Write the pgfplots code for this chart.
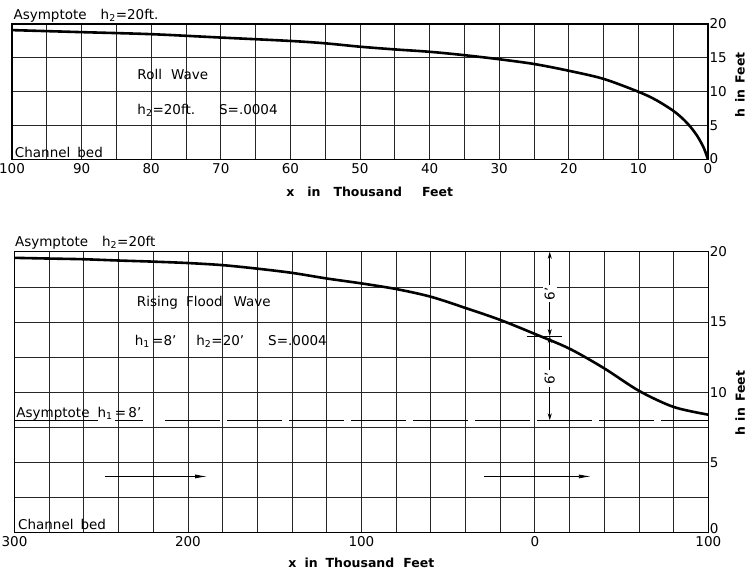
\documentclass[border=0pt]{standalone}
\usepackage{pgfplots}
\pgfplotsset{compat=1.18}
\usepackage{fontspec}
\setmainfont{DejaVu Sans}
\usetikzlibrary{arrows.meta}

\newcommand{\lbl}{\fontsize{13.5}{13.5}\selectfont}
\newcommand{\ttl}{\fontsize{12.5}{12.5}\selectfont\bfseries}

\pgfplotsset{
  chart/.style={
    scale only axis, anchor=south west, x dir=reverse, clip=false,
    axis line style={line width=1.3pt},
    xmajorgrids, ymajorgrids,
    major grid style={line width=0.8pt, black!85},
    major tick length=0pt, minor tick length=0pt,
    yticklabel pos=right,
    tick label style={font=\fontsize{13.5}{13.5}\selectfont},
    yticklabel style={xshift=-2pt},
    /pgf/number format/assume math mode=true,
  },
  curve/.style={line width=2.6pt, black, smooth, tension=0.5},
}

\begin{document}
\begin{tikzpicture}
\useasboundingbox (0,0) rectangle (752pt,-574pt);

% Rising flood wave
\begin{axis}[chart, at={(14.5pt,-532.6pt)}, width=693.8pt, height=280.8pt,
  xmin=-100, xmax=300, ymin=0, ymax=20,
  xtick={-100,-80,...,300},
  xticklabels={100,,,,,0,,,,,100,,,,,200,,,,,300},
  ytick={0,2.5,...,20},
  yticklabels={\raisebox{9pt}{0},,5,,10,,15,,20}]
\addplot[curve] coordinates {
  (300,19.57) (280,19.52) (260,19.47) (240,19.38) (220,19.3) (200,19.2)
  (180,19.05) (160,18.8) (140,18.5) (120,18.1) (100,17.75) (80,17.35)
  (60,16.8) (40,16.0) (20,15.15) (0,14.15) (-20,13.1) (-40,11.7)
  (-60,10.1) (-80,8.95) (-100,8.4)};
% lower asymptote h1 = 8
\addplot[line width=1.4pt, black, dash pattern=on 55pt off 7pt] coordinates {(213,8) (-100,8)};
\draw[line width=1.2pt] (axis cs:300,8) -- (axis cs:252,8);
\draw[line width=1.2pt] (axis cs:242,8) -- (axis cs:226,8);
\node[anchor=base west, font=\lbl, inner sep=0pt] at (axis cs:299,8) [yshift=3pt]
  {Asymptote\hspace{8pt}h\textsubscript{1}\,=\,8'};
\node[anchor=base west, font=\lbl, inner sep=0pt] at (axis cs:299.8,20) [yshift=5pt]
  {Asymptote\hspace{14pt}h\textsubscript{2}=20ft};
\node[anchor=west, font=\lbl, inner sep=0pt] at (axis cs:229.5,16.35)
  {Rising\hspace{8pt}Flood\hspace{11pt}Wave};
\node[anchor=west, font=\lbl, inner sep=0pt] at (axis cs:230.7,13.6)
  {h\textsubscript{1}\,=8'\hspace{20pt}h\textsubscript{2}=20'\hspace{24pt}S=.0004};
\node[anchor=base west, font=\lbl, inner sep=0pt] at (axis cs:298,0) [yshift=3pt]
  {Channel\hspace{7pt}bed};
% direction arrows
\draw[line width=0.8pt, -{Latex[length=12pt,width=4pt]}] (axis cs:248,4) -- (axis cs:189,4);
\draw[line width=0.8pt, -{Latex[length=12pt,width=4pt]}] (axis cs:29.2,4) -- (axis cs:-32.3,4);
% 6' dimensions
\draw[line width=0.7pt, {Stealth[length=7pt,width=4pt]}-{Stealth[length=7pt,width=4pt]}]
  (axis cs:-8.6,20) -- node[fill=white, rotate=90, font=\lbl, inner sep=2pt] {6'} (axis cs:-8.6,14);
\draw[line width=0.7pt, {Stealth[length=7pt,width=4pt]}-{Stealth[length=7pt,width=4pt]}]
  (axis cs:-8.6,14) -- node[fill=white, rotate=90, font=\lbl, inner sep=2pt] {6'} (axis cs:-8.6,8);
\draw[line width=0.7pt] (axis cs:4.8,14) -- (axis cs:-15.4,14);
\node[font=\ttl] at (axis cs:100,0) [yshift=-30.5pt]
  {x\hspace{8pt}in\hspace{8pt}Thousand\hspace{9pt}Feet};
\node[font=\ttl, xshift=32pt, rotate=90] at (axis cs:-100,9.2)
  {h\hspace{6pt}in\hspace{6pt}Feet};
\end{axis}

% Roll wave
\begin{axis}[chart, at={(12pt,-159.5pt)}, width=696pt, height=135.5pt,
  xmin=0, xmax=100, ymin=0, ymax=20,
  xtick={0,5,...,100},
  xticklabels={0,,10,,20,,30,,40,,50,,60,,70,,80,,90,,100},
  ytick={0,5,...,20},
  yticklabels={\raisebox{3pt}{0},5,10,15,20}]
\addplot[curve] coordinates {
  (100,19.1) (90,18.8) (80,18.5) (70,18.0) (60,17.5) (55,17.15) (50,16.65)
  (45,16.25) (40,15.9) (35,15.4) (30,14.8) (25,14.1) (20,13.1) (15,11.9)
  (10,10.0) (7.5,8.8) (5,7.2) (3.5,5.9) (2.5,4.8) (1.5,3.4) (0.6,1.7) (0,0)};
\node[anchor=base west, font=\lbl, inner sep=0pt] at (axis cs:99.8,20) [yshift=5pt]
  {Asymptote\hspace{14pt}h\textsubscript{2}=20ft.};
\node[anchor=west, font=\lbl, inner sep=0pt] at (axis cs:82,12.5)
  {Roll\hspace{9pt}Wave};
\node[anchor=west, font=\lbl, inner sep=0pt] at (axis cs:82,7.2)
  {h\textsubscript{2}=20ft.\hspace{24pt}S=.0004};
\node[anchor=base west, font=\lbl, inner sep=0pt] at (axis cs:99.6,0) [yshift=2.5pt]
  {Channel\hspace{7pt}bed};
\node[font=\ttl] at (axis cs:48.6,0) [yshift=-32pt]
  {x\hspace{13pt}in\hspace{13pt}Thousand\hspace{20pt}Feet};
\node[font=\ttl, xshift=32pt, rotate=90] at (axis cs:0,11)
  {h\hspace{6pt}in\hspace{6pt}Feet};
\end{axis}
\end{tikzpicture}
\end{document}
